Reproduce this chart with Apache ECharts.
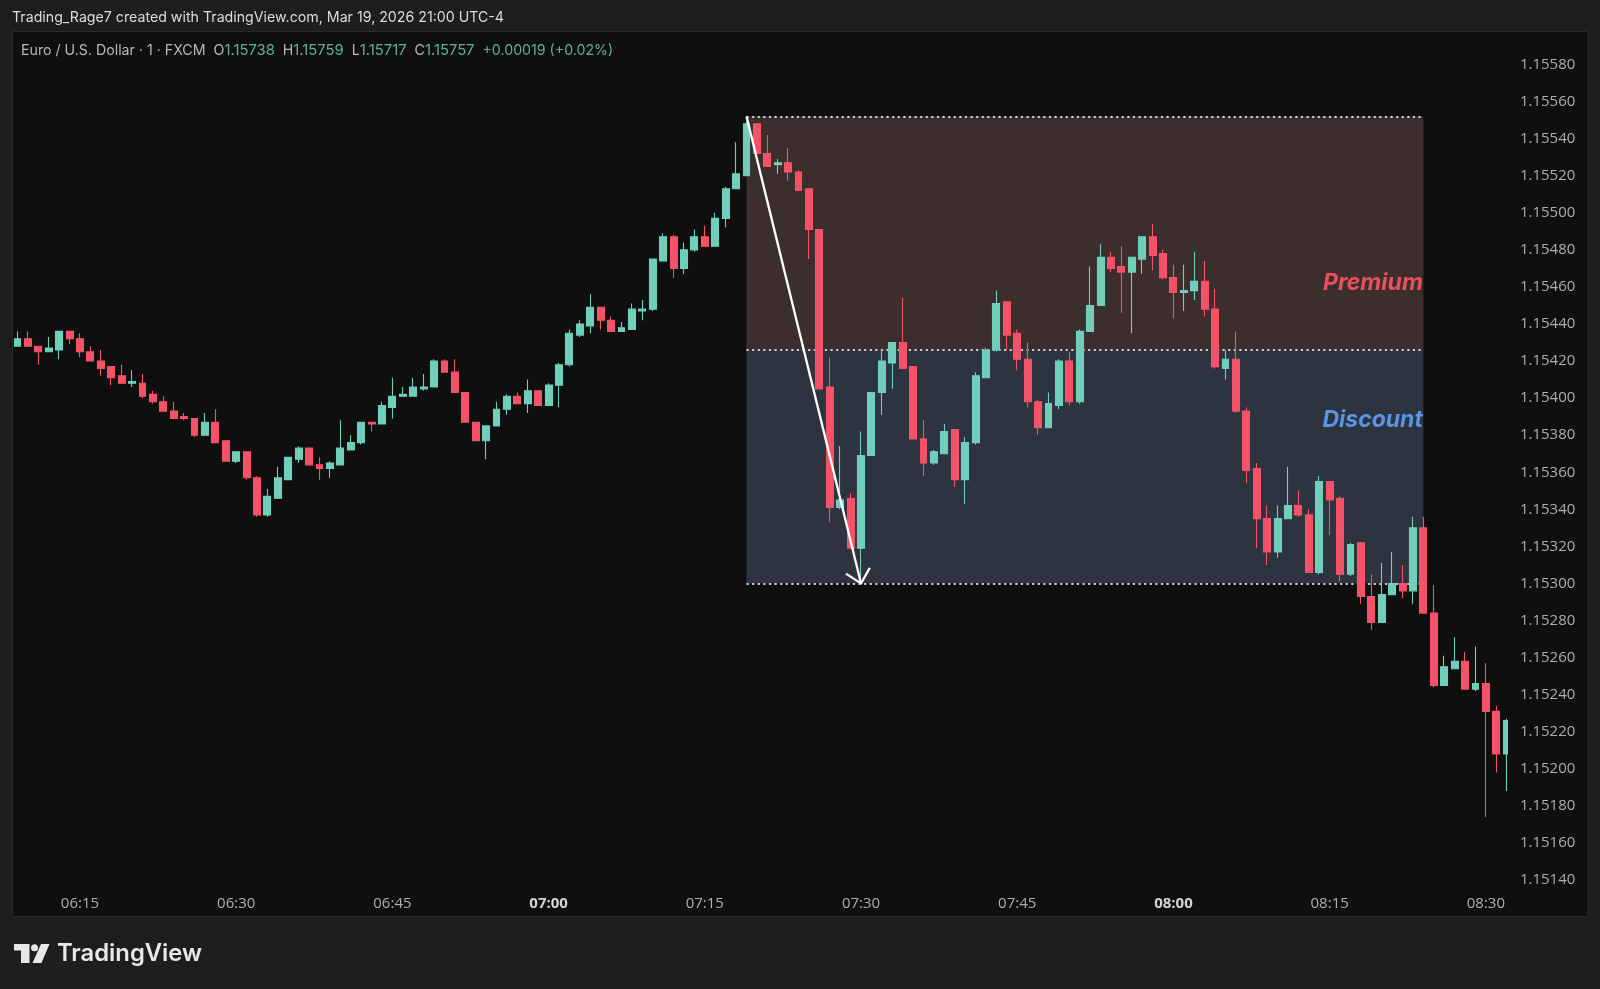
<!DOCTYPE html>
<html><head><meta charset="utf-8">
<style>html,body{margin:0;padding:0;background:#1e1e1e}#c{width:1600px;height:989px}</style>
<script src="https://cdn.jsdelivr.net/npm/echarts@6/dist/echarts.min.js"></script>
</head><body><div id="c"></div>
<script>
const times = [
'06:09','06:10','06:11','06:12','06:13','06:14','06:15','06:16','06:17','06:18','06:19','06:20','06:21','06:22','06:23','06:24','06:25','06:26','06:27','06:28','06:29','06:30',
'06:31','06:32','06:33','06:34','06:35','06:36','06:37','06:38','06:39','06:40','06:41','06:42','06:43','06:44','06:45','06:46','06:47','06:48','06:49','06:50','06:51','06:52','06:53','06:54','06:55','06:56','06:57','06:58','06:59',
'07:00','07:01','07:02','07:03','07:04','07:05','07:06','07:07','07:08','07:09','07:10','07:11','07:12','07:13','07:14','07:15','07:16','07:17','07:18','07:19','07:20','07:21','07:22','07:23','07:24','07:25','07:26','07:27','07:28','07:29','07:30',
'07:31','07:32','07:33','07:34','07:35','07:36','07:37','07:38','07:39','07:40','07:41','07:42','07:43','07:44','07:45','07:46','07:47','07:48','07:49','07:50','07:51','07:52','07:53','07:54','07:55','07:56','07:57','07:58','07:59',
'08:00','08:01','08:02','08:03','08:04','08:05','08:06','08:07','08:08','08:09','08:10','08:11','08:12','08:13','08:14','08:15','08:16','08:17','08:18','08:19','08:20','08:21','08:22','08:23','08:24','08:25','08:26','08:27','08:28','08:29','08:30','08:31','08:32'];

const opens = [
1.15428,1.15432,1.15428,1.15425,1.15426,1.15436,1.15432,1.15425,1.15420,1.15417,
1.15412,1.15408,1.15408,1.15402,1.15398,1.15393,1.15390,1.15389,1.15380,1.15387,
1.15377,1.15366,1.15371,1.15357,1.15337,1.15346,1.15356,1.15367,1.15373,1.15364,
1.15362,1.15364,1.15372,1.15376,1.15387,1.15386,1.15395,1.15401,1.15401,1.15405,
1.15406,1.15420,1.15414,1.15403,1.15387,1.15377,1.15385,1.15394,1.15401,1.15397,
1.15404,1.15396,1.15407,1.15418,1.15434,1.15439,1.15449,1.15442,1.15436,1.15437,
1.15447,1.15448,1.15474,1.15487,1.15470,1.15480,1.15487,1.15482,1.15497,1.15513,
1.15520,1.15548,1.15532,1.15526,1.15527,1.15522,1.15513,1.15491,1.15406,1.15341,
1.15346,1.15319,1.15369,1.15403,1.15419,1.15430,1.15417,1.15378,1.15365,1.15370,
1.15383,1.15356,1.15376,1.15411,1.15426,1.15452,1.15435,1.15421,1.15398,1.15384,
1.15396,1.15420,1.15398,1.15436,1.15450,1.15476,1.15471,1.15468,1.15475,1.15487,
1.15478,1.15465,1.15457,1.15458,1.15463,1.15448,1.15416,1.15421,1.15393,1.15362,
1.15335,1.15317,1.15335,1.15342,1.15337,1.15306,1.15355,1.15346,1.15305,1.15322,
1.15293,1.15279,1.15294,1.15300,1.15296,1.15330,1.15284,1.15245,1.15254,1.15258,
1.15243,1.15246,1.15231,1.15208];
const closes = [
1.15432,1.15428,1.15425,1.15427,1.15436,1.15432,1.15425,1.15420,1.15416,1.15411,
1.15408,1.15409,1.15401,1.15398,1.15393,1.15389,1.15389,1.15380,1.15387,1.15376,
1.15366,1.15371,1.15357,1.15337,1.15347,1.15357,1.15368,1.15373,1.15364,1.15362,
1.15365,1.15373,1.15376,1.15387,1.15386,1.15396,1.15401,1.15402,1.15406,1.15406,
1.15420,1.15414,1.15403,1.15387,1.15377,1.15385,1.15394,1.15401,1.15397,1.15404,
1.15396,1.15407,1.15418,1.15435,1.15440,1.15449,1.15442,1.15436,1.15438,1.15448,
1.15448,1.15475,1.15487,1.15470,1.15480,1.15487,1.15482,1.15497,1.15513,1.15521,
1.15548,1.15532,1.15525,1.15527,1.15522,1.15512,1.15491,1.15405,1.15341,1.15345,
1.15319,1.15369,1.15403,1.15420,1.15430,1.15416,1.15378,1.15365,1.15371,1.15382,
1.15356,1.15376,1.15412,1.15426,1.15451,1.15434,1.15421,1.15398,1.15384,1.15397,
1.15420,1.15398,1.15436,1.15450,1.15476,1.15470,1.15468,1.15476,1.15487,1.15477,
1.15465,1.15457,1.15458,1.15463,1.15448,1.15417,1.15421,1.15393,1.15361,1.15335,
1.15317,1.15335,1.15342,1.15337,1.15306,1.15355,1.15345,1.15305,1.15321,1.15293,
1.15279,1.15294,1.15300,1.15296,1.15330,1.15284,1.15245,1.15255,1.15258,1.15243,
1.15246,1.15231,1.15208,1.15226];
const lows = [
1.15428,1.15428,1.15418,1.15425,1.15421,1.15429,1.15422,1.15420,1.15412,1.15407,
1.15408,1.15406,1.15400,1.15397,1.15393,1.15389,1.15388,1.15379,1.15380,1.15376,
1.15366,1.15365,1.15356,1.15336,1.15336,1.15346,1.15356,1.15365,1.15364,1.15356,
1.15357,1.15364,1.15372,1.15375,1.15382,1.15386,1.15389,1.15401,1.15401,1.15404,
1.15406,1.15414,1.15403,1.15387,1.15377,1.15367,1.15385,1.15391,1.15397,1.15392,
1.15396,1.15396,1.15395,1.15417,1.15433,1.15435,1.15437,1.15436,1.15436,1.15437,
1.15442,1.15447,1.15474,1.15465,1.15467,1.15479,1.15482,1.15482,1.15492,1.15513,
1.15520,1.15532,1.15525,1.15521,1.15517,1.15512,1.15475,1.15405,1.15333,1.15340,
1.15319,1.15301,1.15369,1.15391,1.15405,1.15416,1.15378,1.15358,1.15364,1.15370,
1.15352,1.15343,1.15375,1.15411,1.15425,1.15426,1.15415,1.15395,1.15380,1.15384,
1.15394,1.15396,1.15397,1.15436,1.15450,1.15468,1.15446,1.15435,1.15467,1.15469,
1.15464,1.15443,1.15447,1.15453,1.15444,1.15416,1.15410,1.15392,1.15354,1.15319,
1.15310,1.15314,1.15335,1.15336,1.15306,1.15305,1.15326,1.15301,1.15304,1.15289,
1.15275,1.15279,1.15294,1.15292,1.15289,1.15284,1.15244,1.15245,1.15254,1.15243,
1.15242,1.15174,1.15198,1.15188];
const highs = [
1.15436,1.15436,1.15428,1.15433,1.15436,1.15436,1.15435,1.15428,1.15426,1.15417,
1.15418,1.15415,1.15413,1.15404,1.15401,1.15398,1.15392,1.15389,1.15392,1.15394,
1.15377,1.15371,1.15371,1.15358,1.15351,1.15363,1.15368,1.15374,1.15373,1.15368,
1.15366,1.15388,1.15380,1.15387,1.15387,1.15398,1.15411,1.15406,1.15411,1.15413,
1.15421,1.15421,1.15421,1.15403,1.15387,1.15385,1.15398,1.15402,1.15403,1.15410,
1.15404,1.15408,1.15419,1.15437,1.15442,1.15456,1.15449,1.15444,1.15441,1.15451,
1.15453,1.15475,1.15489,1.15488,1.15484,1.15491,1.15493,1.15500,1.15514,1.15538,
1.15549,1.15548,1.15542,1.15529,1.15535,1.15523,1.15513,1.15491,1.15422,1.15374,
1.15349,1.15382,1.15403,1.15426,1.15430,1.15454,1.15417,1.15388,1.15372,1.15386,
1.15383,1.15379,1.15414,1.15427,1.15458,1.15452,1.15437,1.15430,1.15399,1.15403,
1.15421,1.15425,1.15437,1.15471,1.15483,1.15479,1.15482,1.15476,1.15487,1.15494,
1.15480,1.15472,1.15472,1.15479,1.15474,1.15459,1.15426,1.15436,1.15395,1.15365,
1.15342,1.15342,1.15363,1.15350,1.15340,1.15358,1.15355,1.15347,1.15322,1.15322,
1.15305,1.15311,1.15317,1.15310,1.15336,1.15336,1.15299,1.15261,1.15271,1.15263,
1.15266,1.15257,1.15234,1.15227];

const zoneLevels = [1.15552, 1.15426, 1.15300];
const zoneStart = '07:19', zoneEnd = '08:24';
const arrowFrom = ['07:19', 1.15552], arrowTo = ['07:30', 1.15300];
const zoneLabels = [['Premium', 1.15462], ['Discount', 1.15388]];
const yMin = 1.1514, yMax = 1.1558, yStep = 0.0002;

const UP = '#6fcfbb', DOWN = '#f45268', AXIS = '#adadad', FONT = 'Inter, "Noto Sans", sans-serif', AXFONT = '"Open Sans", sans-serif';
const ohlc = times.map((t,i)=>[opens[i],closes[i],lows[i],highs[i]]);
const chart = echarts.init(document.getElementById('c'), null, {renderer:'canvas'});
chart.setOption({
  animation:false,
  backgroundColor:'#1e1e1e',
  textStyle:{fontFamily:FONT},
  grid:{left:12.3,top:64.5,width:1499.6,height:815.5,containLabel:false},
  xAxis:{type:'category',data:times,boundaryGap:true,
    axisLine:{show:false},axisTick:{show:false},splitLine:{show:false},
    axisLabel:{margin:16,fontSize:15,color:AXIS,fontFamily:AXFONT,
      interval:(i,v)=>v.slice(3)==='00'||v.slice(3)==='15'||v.slice(3)==='30'||v.slice(3)==='45',
      formatter:v=>v.slice(3)==='00' ? '{b|'+v+'}' : v,
      rich:{b:{fontWeight:700,fontSize:15,color:'#d4d4d4',fontFamily:AXFONT}}}},
  yAxis:{type:'value',position:'right',scale:true,min:yMin,max:yMax,interval:yStep,
    axisLine:{show:false},axisTick:{show:false},splitLine:{show:false},
    axisLabel:{margin:8,padding:[5,0,0,0],fontSize:15,color:AXIS,fontFamily:AXFONT,formatter:v=>v.toFixed(5)}},
  series:[
    {type:'line',z:1,data:[],silent:true,
     markArea:{silent:true,z:1,data:[
       [{xAxis:zoneStart,yAxis:zoneLevels[0],itemStyle:{color:'#3d2e2e'}},{xAxis:zoneEnd,yAxis:zoneLevels[1]}],
       [{xAxis:zoneStart,yAxis:zoneLevels[1],itemStyle:{color:'#2d333f'}},{xAxis:zoneEnd,yAxis:zoneLevels[2]}]]},
     markLine:{silent:true,z:1,symbol:'none',label:{show:false},
       lineStyle:{color:'#cfcfcf',width:2.2,type:[2.2,3.4],opacity:1},
       data:zoneLevels.map(v=>[{xAxis:zoneStart,yAxis:v},{xAxis:zoneEnd,yAxis:v}])}},
    {type:'candlestick',z:2,data:ohlc,barWidth:7.4,
     itemStyle:{color:UP,color0:DOWN,borderColor:UP,borderColor0:DOWN,borderWidth:1.1}},
    {type:'custom',z:3,silent:true,clip:false,
     data:[[times.indexOf(arrowFrom[0]),arrowFrom[1],times.indexOf(arrowTo[0]),arrowTo[1]]],
     encode:{x:[0,2],y:[1,3]},
     renderItem:(p,api)=>{
       const a=api.coord([api.value(0),api.value(1)]), b=api.coord([api.value(2),api.value(3)]);
       const th=Math.atan2(a[1]-b[1],a[0]-b[0]), L=18, sp=43*Math.PI/180;
       const s={stroke:'#ffffff',lineWidth:2.3,fill:null};
       return {type:'group',children:[
         {type:'line',shape:{x1:a[0],y1:a[1],x2:b[0],y2:b[1]},style:s},
         {type:'polyline',shape:{points:[
           [b[0]+L*Math.cos(th+sp),b[1]+L*Math.sin(th+sp)],b,
           [b[0]+L*Math.cos(th-sp),b[1]+L*Math.sin(th-sp)]]},style:s}]};
     }},
    {type:'line',z:3,data:[],silent:true,
     markPoint:{silent:true,symbol:'circle',symbolSize:1,itemStyle:{color:'rgba(0,0,0,0)'},
       data:zoneLabels.map((z,i)=>({name:z[0],coord:[zoneEnd,z[1]],value:z[0],
         label:{show:true,position:'left',distance:0,formatter:z[0],fontFamily:FONT,fontStyle:'italic',fontWeight:700,fontSize:23,
           color:i===0?'#e8505f':'#5a94e4'}}))}}
  ],
  graphic:[
    {type:'rect',z:-10,shape:{x:12.5,y:31.5,width:1575.5,height:885},style:{fill:'#0f0f0f',stroke:'#2a2a2a',lineWidth:1}},
    {type:'rect',z:10,shape:{x:1508,y:60,width:8,height:825},style:{fill:'#0f0f0f'}},
    {type:'text',z:10,left:12,top:11,style:{text:'Trading_Rage7 created with TradingView.com, Mar 19, 2026 21:00 UTC-4',fill:'#dcdcdc',font:'14.2px '+FONT}},
    {type:'text',z:10,left:21,top:43.5,style:{
      text:'{g|Euro / U.S. Dollar · 1 · FXCM  O}{v|1.15738}{g|  H}{v|1.15759}{g|  L}{v|1.15717}{g|  C}{v|1.15757}{w|  +0.00019 (+0.02%)}',
      font:'14.2px '+FONT,
      rich:{g:{fill:'#b8b8b8',font:'14.2px '+FONT},v:{fill:'#62ad9c',font:'14.8px '+FONT},w:{fill:'#62ad9c',font:'14.2px '+FONT}}}},
    {type:'polygon',z:10,shape:{points:[[14,944],[29.5,944],[29.5,963],[21,963],[21,950.5],[14,950.5]]},style:{fill:'#e8e8e8'}},
    {type:'circle',z:10,shape:{cx:34.5,cy:947.8,r:3.5},style:{fill:'#e8e8e8'}},
    {type:'polygon',z:10,shape:{points:[[41,944],[49.5,944],[41.5,963],[32.5,963]]},style:{fill:'#e8e8e8'}},
    {type:'text',z:10,left:57,top:942,style:{text:'TradingView',fill:'#e8e8e8',font:'600 23.8px '+FONT}}
  ]
});
</script></body></html>
